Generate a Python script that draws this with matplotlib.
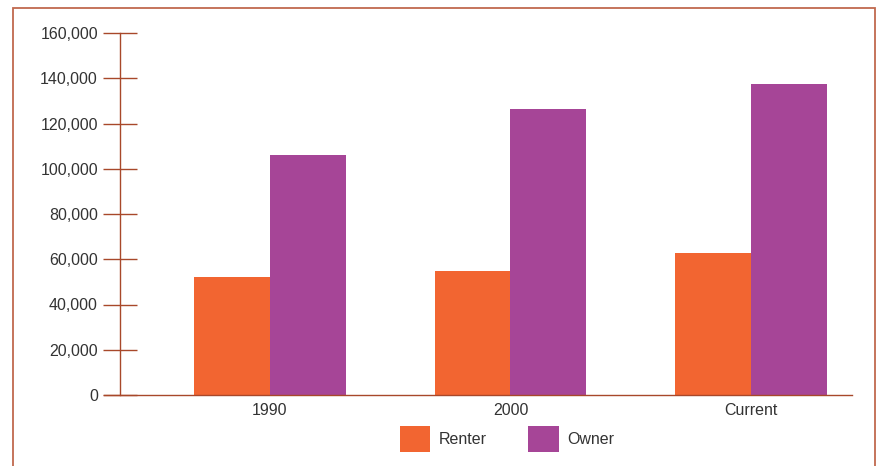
import matplotlib
matplotlib.use("Agg")
import matplotlib.pyplot as plt
from matplotlib.patches import Rectangle, Patch
from matplotlib.ticker import FuncFormatter

categories = ["1990", "2000", "Current"]
renter = [52200, 54800, 62800]
owner = [106100, 126400, 137500]
series_names = ["Renter", "Owner"]
yticks = [0, 20000, 40000, 60000, 80000, 100000, 120000, 140000, 160000]

RENTER_COLOR = "#f26531"
OWNER_COLOR = "#a64597"
AXIS_COLOR = "#a8482a"
FRAME_COLOR = "#c0694e"
TEXT_COLOR = "#333333"

plt.rcParams["font.family"] = ["Liberation Sans", "DejaVu Sans"]

W, H = 880, 466
fig = plt.figure(figsize=(W / 100, H / 100), dpi=100)

# outer frame (open at the bottom edge)
fig.patches.append(Rectangle((13 / W, -0.1), (875 - 13) / W, 1.1 - 8 / H,
                             transform=fig.transFigure, fill=False,
                             edgecolor=FRAME_COLOR, linewidth=1.3,
                             clip_on=False))

ax = fig.add_axes([104 / W, 71 / H, (852 - 104) / W, (395 - 33) / H])

x = list(range(len(categories)))
bw = 0.315
ax.bar([i - bw / 2 for i in x], renter, width=bw, color=RENTER_COLOR,
       label=series_names[0])
ax.bar([i + bw / 2 for i in x], owner, width=bw, color=OWNER_COLOR,
       label=series_names[1])

ax.set_xlim(-0.689, 2.419)
ax.set_ylim(0, 160000)

for s in ("top", "right"):
    ax.spines[s].set_visible(False)
ax.spines["left"].set_position(("data", -0.622))
ax.spines["left"].set_color(AXIS_COLOR)
ax.spines["bottom"].set_color(AXIS_COLOR)
ax.spines["left"].set_linewidth(1.0)
ax.spines["bottom"].set_linewidth(1.0)

ax.set_yticks(yticks)
ax.yaxis.set_major_formatter(FuncFormatter(lambda v, p: f"{int(v):,}"))
ax.tick_params(axis="y", direction="inout", length=25, width=1.0,
               color=AXIS_COLOR, labelsize=11.5, labelcolor=TEXT_COLOR, pad=3.5)
for lbl in ax.get_yticklabels():
    lbl.set_clip_on(False)

ax.set_xticks(x)
ax.set_xticklabels(categories)
ax.tick_params(axis="x", length=0, labelsize=11.5, labelcolor=TEXT_COLOR, pad=6)

handles = [Patch(facecolor=RENTER_COLOR), Patch(facecolor=OWNER_COLOR)]
fig.legend(handles, series_names, loc="center", bbox_to_anchor=(507 / W, 27 / H),
           ncol=2, frameon=False, fontsize=11.5, handlelength=1.9,
           handleheight=2.1, handletextpad=0.55, columnspacing=2.6,
           labelcolor=TEXT_COLOR)

fig.savefig("out.png", dpi=100)
